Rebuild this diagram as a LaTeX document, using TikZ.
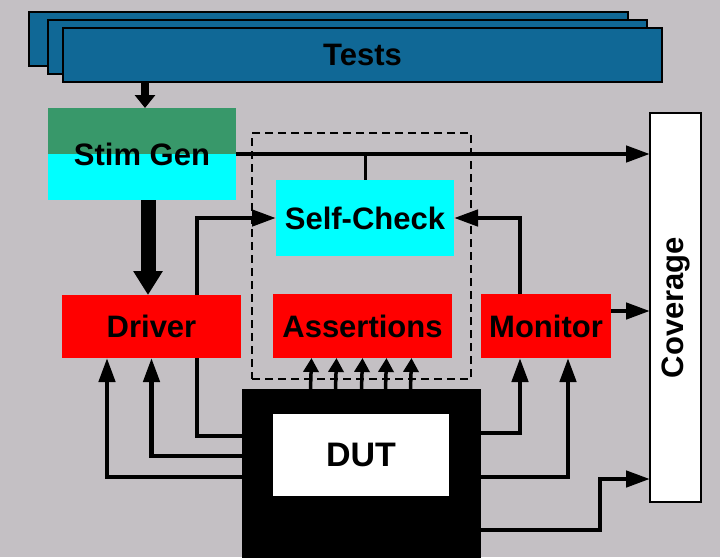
\documentclass[tikz,border=0pt]{standalone}
\usepackage{fontspec}
\setmainfont{Liberation Sans}
\usetikzlibrary{arrows.meta}
\definecolor{bg}{RGB}{196,192,196}
\definecolor{testblue}{RGB}{16,104,150}
\definecolor{sggreen}{RGB}{56,152,106}
\definecolor{cyanc}{RGB}{0,255,255}
\definecolor{redc}{RGB}{255,0,0}
\begin{document}
\begin{tikzpicture}[x=1pt,y=-1pt,
  lbl/.style={font=\bfseries\fontsize{31}{31}\selectfont, text=black},
  blk/.style={lbl, inner sep=0pt, outer sep=0pt, anchor=center},
  testbox/.style={blk, fill=testblue, draw=black, line width=1.5pt, minimum width=599pt, minimum height=54pt},
  redbox/.style={blk, fill=redc, minimum height=64pt},
  conn/.style={line width=4.5pt},
  tip/.style={-{Triangle[length=24pt,width=16pt]}},
  smalltip/.style={line width=3.5pt, -{Triangle[length=14pt,width=15pt]}}
]
\useasboundingbox (0,0) rectangle (720,557);
\fill[bg] (0,0) rectangle (720,557);

% Tests stack
\node[testbox] (t3) at (328.5,39) {};
\node[testbox] (t2) at (347.5,47) {};
\node[testbox] (tests) at (362.5,55) {Tests};

% dashed group
\node[draw=black, line width=2.5pt, dash pattern=on 8pt off 5pt, inner sep=0pt, outer sep=0pt,
      minimum width=219pt, minimum height=246pt, anchor=center] (grp) at (361.5,256) {};

% blocks
\node[blk, fill=cyanc, minimum width=188pt, minimum height=92pt,
  path picture={\fill[sggreen] (path picture bounding box.north west) rectangle (path picture bounding box.east);}]
  (sg) at (142,154) {Stim Gen};
\node[blk, fill=cyanc, minimum width=178pt, minimum height=76pt] (sc) at (365,218) {Self-Check};
\node[redbox, minimum width=179pt, minimum height=63pt] (drv) at (151.5,326.5) {Driver};
\node[redbox, minimum width=179pt] (asr) at (362.5,326) {Assertions};
\node[redbox, minimum width=130pt] (mon) at (546,326) {Monitor};
\node[blk, fill=white, draw=black, line width=2pt, minimum width=51pt, minimum height=389pt] (cov) at (675.5,307.5) {};
\node[lbl, rotate=90, inner sep=0pt] (covtxt) at (cov.center) {Coverage};
\node[blk, fill=black, minimum width=239pt, minimum height=170pt] (dut) at (361.5,474) {};
\node[blk, fill=white, minimum width=176pt, minimum height=82pt, font=\bfseries\fontsize{34}{34}\selectfont] (dutin) at (361,455) {DUT};
\coordinate (bend) at (600,479);

% connectors
\draw[line width=8pt, -{Triangle[length=13pt,width=20pt]}] ([xshift=3pt]tests.south -| sg.north) -- ([xshift=3pt]sg.north);
\draw[line width=15pt, -{Triangle[length=24pt,width=28pt]}] ([xshift=6pt]sg.south) -- ([xshift=6pt]sg.south |- drv.north);
\draw[conn, tip] (sg.east) -- (sg.east -| cov.west);
\draw[line width=3pt] (sg.east -| sc.north) -- (sc.north);
\draw[conn, tip] ([xshift=45.5pt]drv.north) |- (sc.west);
\draw[conn] ([xshift=45.5pt]drv.south) |- ([yshift=-47pt]dut.north west);
\draw[conn, tip] ([yshift=-67pt]dut.north west) -| (drv.south);
\draw[conn, tip] ([yshift=-88pt]dut.north west) -| ([xshift=-44.5pt]drv.south);
\draw[conn, tip] ([xshift=-26pt]mon.north) |- (sc.east);
\draw[conn, tip] ([yshift=15pt]mon.east) -- ([yshift=15pt]mon.east -| cov.west);
\draw[conn, tip] ([yshift=-44pt]dut.north east) -| ([xshift=-26pt]mon.south);
\draw[conn, tip] ([yshift=-88pt]dut.north east) -| ([xshift=22pt]mon.south);
\draw[conn, tip] ([yshift=-141pt]dut.north east) -| (bend) -- (bend -| cov.west);
\foreach \dx in {-51,-26,0,24,49}
  \draw[smalltip] ([xshift=\dx pt]dut.north) -- ([xshift=\dx pt]asr.south);
\end{tikzpicture}
\end{document}
